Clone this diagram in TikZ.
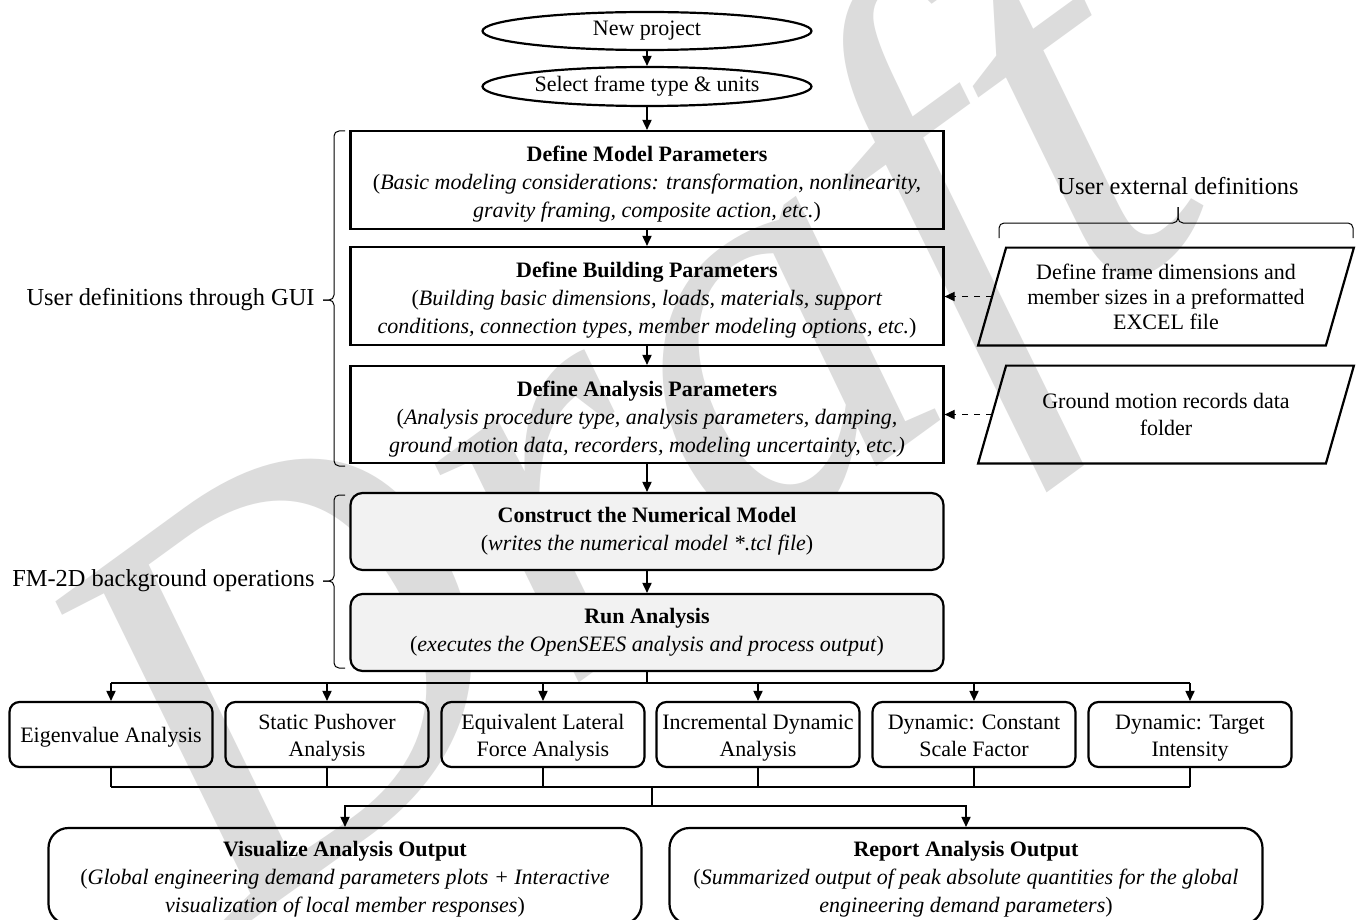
\documentclass[tikz,border=0pt]{standalone}
\usepackage{fontspec}
\setmainfont{Liberation Serif}
\usetikzlibrary{arrows.meta,shapes.geometric,calc}
\definecolor{boxgray}{HTML}{F2F2F2}
\definecolor{wmgray}{HTML}{DCDCDC}
\newcommand{\tallA}{\rule{0pt}{12pt}}
\newcommand{\tallB}{\rule{0pt}{11pt}}
\newcommand{\deepB}{\rule[-2.6pt]{0pt}{1pt}}
\begin{document}
\begin{tikzpicture}[x=0.5pt,y=-0.5pt,
  every node/.style={font=\fontsize{11}{14}\selectfont, inner sep=0pt, align=center},
  arr/.style={-{Triangle[length=5pt,width=4.6pt]}, line width=0.6pt},
  conn/.style={line width=0.6pt},
  bracestyle/.style={line width=0.5pt, rounded corners=2.5pt},
  term/.style={draw, ellipse, line width=1.1pt, minimum width=164.5pt, minimum height=19pt},
  stagebox/.style={draw, line width=1.1pt, minimum width=296.5pt, minimum height=49pt},
  procbox/.style={draw, line width=1.1pt, rounded corners=6pt, fill=boxgray, minimum width=296.5pt, minimum height=38.5pt},
  anbox/.style={draw, line width=1.1pt, rounded corners=5pt, minimum width=101.5pt, minimum height=32.5pt, font=\fontsize{11}{13.5}\selectfont},
  outbox/.style={draw, line width=1.1pt, rounded corners=10pt, minimum width=296.5pt, minimum height=48pt},
  sidelabel/.style={font=\fontsize{12.2}{14}\selectfont}
]
\useasboundingbox (0,0) rectangle (1359,920);
\fill[white] (0,0) rectangle (1359,920);

% watermark
\node[rotate=36, text=wmgray, font=\fontsize{285}{285}\selectfont\itshape] (wm) at (645,462) {Draft};

% top terminators
\node[term] (np) at (647,31) {New project};
\node[term, minimum height=19.5pt] (sel) at (647,86.5) {Select frame type \& units};

% GUI stages
\node[stagebox] (mdl) at (647,180) {\tallA\textbf{Define Model Parameters}\\(\textit{Basic modeling considerations: transformation, nonlinearity,}\\\textit{gravity framing, composite action, etc.})};
\node[stagebox] (bld) at (647,296) {\tallA\textbf{Define Building Parameters}\\(\textit{Building basic dimensions, loads, materials, support}\\\textit{conditions, connection types, member modeling options, etc.})};
\node[stagebox, minimum height=48.5pt] (ana) at (647,414.5) {\tallA\textbf{Define Analysis Parameters}\\(\textit{Analysis procedure type, analysis parameters, damping,}\\\textit{ground motion data, recorders, modeling uncertainty, etc.)}};

% background operations
\node[procbox] (con) at (647,531.5) {\textbf{Construct the Numerical Model}\\(\textit{writes the numerical model *.tcl file})};
\node[procbox] (run) at (647,632.5) {\textbf{Run Analysis}\\(\textit{executes the OpenSEES analysis and process output})};

% analysis types
\node[anbox] (eig) at (111,734.5) {\tallB Eigenvalue Analysis\deepB};
\node[anbox] (sta) at (327,734.5) {\tallB Static Pushover\\Analysis\deepB};
\node[anbox] (equ) at (543,734.5) {\tallB Equivalent Lateral\\Force Analysis\deepB};
\node[anbox] (inc) at (758,734.5) {\tallB Incremental Dynamic\\Analysis\deepB};
\node[anbox] (dyc) at (974,734.5) {\tallB Dynamic: Constant\\Scale Factor\deepB};
\node[anbox] (dyt) at (1190,734.5) {\tallB Dynamic: Target\\Intensity\deepB};

% outputs
\node[outbox] (vis) at (345,876) {\tallB\textbf{Visualize Analysis Output}\\(\textit{Global engineering demand parameters plots + Interactive}\\\textit{visualization of local member responses})};
\node[outbox] (rep) at (966,876) {\tallB\textbf{Report Analysis Output}\\(\textit{Summarized output of peak absolute quantities for the global}\\\textit{engineering demand parameters})};

% external definitions
\node[minimum width=173.5pt, minimum height=48.5pt, font=\fontsize{11}{12.5}\selectfont] (ext1) at (1166,296.5) {Define frame dimensions and\\member sizes in a preformatted\\EXCEL file};
\node[minimum width=173.5pt, minimum height=48.5pt, font=\fontsize{11}{13.5}\selectfont] (ext2) at (1166,414.5) {Ground motion records data\\folder};
\foreach \p in {ext1,ext2}{
  \draw[line width=1.1pt] ($(\p.south west)+(-14,0)$) -- ($(\p.south east)+(-14,0)$) -- ($(\p.north east)+(14,0)$) -- ($(\p.north west)+(14,0)$) -- cycle;
}
\node[sidelabel] (extlbl) at (1178,186) {User external definitions};

% side labels
\node[sidelabel, anchor=east] (gui) at (315,300) {User definitions through GUI};
\node[sidelabel, anchor=east] (fm) at (315,581) {FM-2D background operations};

% braces
\draw[bracestyle] (345,131) -- (334,131) -- (334,300) -- (323,300);
\draw[bracestyle] (323,300) -- (334,300) -- (334,466) -- (345,466);
\draw[bracestyle] (345,495) -- (334,495) -- (334,581) -- (323,581);
\draw[bracestyle] (323,581) -- (334,581) -- (334,668) -- (345,668);
\draw[bracestyle] (999,238) -- (999,223) -- (1178,223) -- (1178,207);
\draw[bracestyle] (1353,238) -- (1353,223) -- (1178,223) -- (1178,207);

% main flow
\draw[arr] (np) -- (sel);
\draw[arr] (sel) -- (mdl);
\draw[arr] (mdl) -- (bld);
\draw[arr] (bld) -- (ana);
\draw[arr] (ana) -- (con);
\draw[arr] (con) -- (run);
\draw[arr, dashed] (ext1.west) -- (ext1.west -| bld.east);
\draw[arr, dashed] (ext2.west) -- (ext2.west -| ana.east);

% distribution
\coordinate (j1) at (647,683);
\coordinate (j2) at (652,787);
\coordinate (j3) at (652,806);
\draw[conn] (run.south) -- (j1);
\draw[conn] (eig.north |- j1) -- (dyt.north |- j1);
\foreach \b in {eig,sta,equ,inc,dyc,dyt}{
  \draw[arr] (\b.north |- j1) -- (\b.north);
  \draw[conn] (\b.south) -- (\b.south |- j2);
}
\draw[conn] (eig.south |- j2) -- (dyt.south |- j2);
\draw[conn] (j2) -- (j3);
\draw[arr] (j3) -| (vis.north);
\draw[arr] (j3) -| (rep.north);
\end{tikzpicture}
\end{document}
